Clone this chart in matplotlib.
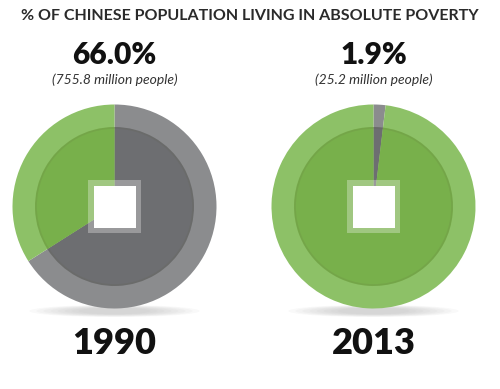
import matplotlib.pyplot as plt
from matplotlib.patches import Ellipse, Rectangle, Circle

# data
years = ['1990', '2013']
poverty_pct = [66.0, 1.9]
people_mn = [755.8, 25.2]
title = '% OF CHINESE POPULATION LIVING IN ABSOLUTE POVERTY'

# colours
green_out, green_in = '#8dc167', '#78b04b'
grey_out, grey_in = '#8b8c8e', '#6d6e71'

H = 389
fig = plt.figure(figsize=(5, 3.89), dpi=100)
ax = fig.add_axes([0, 0, 1, 1])

centers_x = [114.5, 373.5]
cy = H - 206.5

for i, pct in enumerate(poverty_pct):
    cx = centers_x[i]
    vals = [pct, 100 - pct]

    # soft shadow under the disc
    for k in range(8):
        ax.add_patch(Ellipse((cx, H - 311), 170 - k * 14, 12 - k * 0.8,
                             color='#9a9a9a', alpha=0.06, lw=0, zorder=0))

    ax.pie(vals, center=(cx, cy), radius=102, startangle=90, counterclock=False,
           colors=[grey_out, green_out], wedgeprops=dict(linewidth=0))
    ax.pie(vals, center=(cx, cy), radius=79.5, startangle=90, counterclock=False,
           colors=[grey_in, green_in], wedgeprops=dict(linewidth=0))
    # faint rim around the inner pie
    ax.add_patch(Circle((cx, cy), 78.5, fill=False, ec='#5a5a3a', lw=1.2,
                        alpha=0.12, zorder=3))

    # square hole
    ax.add_patch(Rectangle((cx - 26.5, cy - 26.5), 53, 53, color='white',
                           alpha=0.3, lw=0, zorder=4))
    ax.add_patch(Rectangle((cx - 21, cy - 21), 42, 42, color='white',
                           lw=0, zorder=5))

    ax.text(cx, H - 55, f'{pct:.1f}%', ha='center', va='center',
            fontsize=21.5, fontweight='heavy', family='Lato', color='#111111')
    ax.text(cx, H - 80, f'({people_mn[i]} million people)', ha='center',
            va='center', fontsize=10, style='italic', family='Lato',
            color='#333333')
    ax.text(cx, H - 344, years[i], ha='center', va='center', fontsize=26,
            fontweight='heavy', family='Lato', color='#111111')

ax.text(250, H - 16, title, ha='center', va='center', fontsize=11.5,
        fontweight='bold', family='Lato', color='#2a2a2a')

ax.set_xlim(0, 500)
ax.set_ylim(0, H)
ax.set_aspect('auto')
ax.axis('off')

fig.savefig('out.png', dpi=100, facecolor='white')
